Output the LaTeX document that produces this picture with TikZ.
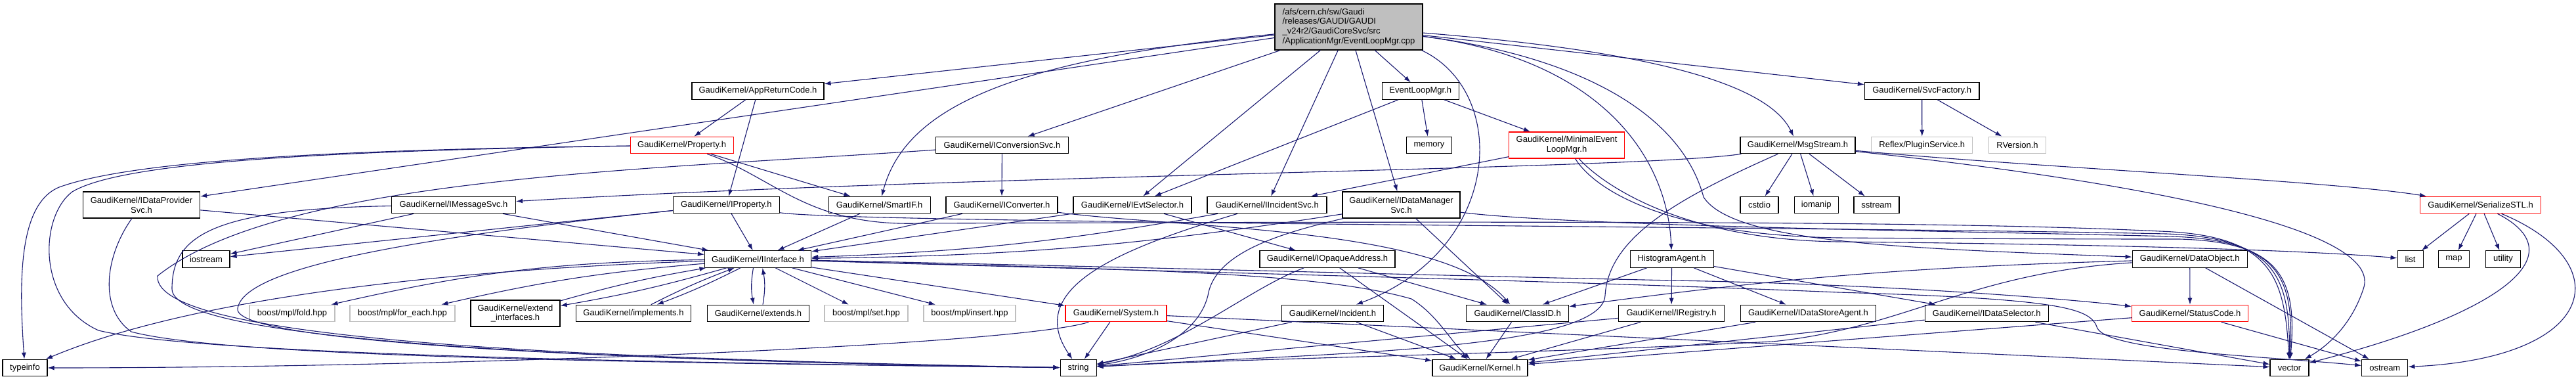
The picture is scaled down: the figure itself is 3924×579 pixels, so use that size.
\documentclass[tikz,border=0pt]{standalone}
\usepackage{fontspec}
\newfontfamily\doxfont{Liberation Sans}
\usetikzlibrary{arrows.meta}

\definecolor{edgeblue}{RGB}{25,25,112}
\definecolor{rootgray}{RGB}{191,191,191}
\definecolor{cutred}{RGB}{255,0,0}
\definecolor{undocgray}{RGB}{191,191,191}

\begin{document}
\begin{tikzpicture}[x = 1pt, y = 1pt, > = {Latex[length = 10pt, width = 7pt]}, font = \doxfont\fontsize{13}{14.8}\selectfont,
	file/.style = {draw = black, fill = white, line width = 1.2pt, minimum height = 25.5pt, inner sep = 2pt},
	twoline/.style = {file, minimum height = 40pt, align = center},
	cut/.style = {draw = cutred},
	undoc/.style = {draw = undocgray},
	edge/.style = {->, draw = edgeblue, line width = 1.1pt}]

	% Definitions
	
	\def\rowa{-41}		% Row heights, top to bottom
	\def\rowb{-138.5}
	\def\rowc{-221}
	\def\rowd{-312}
	\def\rowe{-394.5}
	\def\rowf{-477}
	\def\rowg{-560}
	
	\useasboundingbox (0, 0) rectangle (3924, -579);
	
	% Draw files
	
	\node [file, fill = rootgray, minimum width = 225, minimum height = 70, align = left] (root) at (2054.5, \rowa) {/afs/cern.ch/sw/Gaudi\\/releases/GAUDI/GAUDI\\\_v24r2/GaudiCoreSvc/src\\/ApplicationMgr/EventLoopMgr.cpp};
	
	\node [file, minimum width = 201] (arc) at (1154.5, \rowb) {GaudiKernel/AppReturnCode.h};
	\node [file, minimum width = 117] (elm) at (2163.7, \rowb) {EventLoopMgr.h};
	\node [file, minimum width = 174.5] (sf) at (2927.7, \rowb) {GaudiKernel/SvcFactory.h};
	
	\node [file, cut, minimum width = 157] (prop) at (1038.6, \rowc) {GaudiKernel/Property.h};
	\node [file, minimum width = 202] (icnv) at (1526.4, \rowc) {GaudiKernel/IConversionSvc.h};
	\node [file, minimum width = 69.5] (mem) at (2177, \rowc) {memory};
	\node [twoline, cut, minimum width = 176] (melm) at (2386.6, \rowc) {GaudiKernel/MinimalEvent\\LoopMgr.h};
	\node [file, minimum width = 175] (msg) at (2738.5, \rowc) {GaudiKernel/MsgStream.h};
	\node [file, undoc, minimum width = 154] (plug) at (2927.8, \rowc) {Reflex/PluginService.h};
	\node [file, undoc, minimum width = 87] (rver) at (3073, \rowc) {RVersion.h};
	
	\node [twoline, minimum width = 178] (idp) at (215.5, \rowd) {GaudiKernel/IDataProvider\\Svc.h};
	\node [file, minimum width = 189] (imsg) at (691, \rowd) {GaudiKernel/IMessageSvc.h};
	\node [file, minimum width = 162] (iprop) at (1106.4, \rowd) {GaudiKernel/IProperty.h};
	\node [file, minimum width = 155] (sif) at (1339.6, \rowd) {GaudiKernel/SmartIF.h};
	\node [file, minimum width = 170] (iconv) at (1526, \rowd) {GaudiKernel/IConverter.h};
	\node [file, minimum width = 180] (ievt) at (1725, \rowd) {GaudiKernel/IEvtSelector.h};
	\node [file, minimum width = 182] (iinc) at (1930, \rowd) {GaudiKernel/IIncidentSvc.h};
	\node [twoline, minimum width = 179] (idm) at (2134.5, \rowd) {GaudiKernel/IDataManager\\Svc.h};
	\node [file, minimum width = 58] (cstdio) at (2680, \rowd) {cstdio};
	\node [file, minimum width = 67] (iomanip) at (2766.7, \rowd) {iomanip};
	\node [file, minimum width = 69] (sstream) at (2858.4, \rowd) {sstream};
	\node [file, cut, minimum width = 184] (ser) at (3778.5, \rowd) {GaudiKernel/SerializeSTL.h};
	
	\node [file, minimum width = 72] (iostream) at (314, \rowe) {iostream};
	\node [file, minimum width = 162] (iint) at (1154.5, \rowe) {GaudiKernel/IInterface.h};
	\node [file, minimum width = 206] (iopq) at (2022, \rowe) {GaudiKernel/IOpaqueAddress.h};
	\node [file, minimum width = 127] (hist) at (2546.6, \rowe) {HistogramAgent.h};
	\node [file, minimum width = 175] (dobj) at (3335.7, \rowe) {GaudiKernel/DataObject.h};
	\node [file, minimum width = 39] (list) at (3671.6, \rowe) {list};
	\node [file, minimum width = 47] (map) at (3738, \rowe) {map};
	\node [file, minimum width = 53] (utility) at (3813, \rowe) {utility};
	
	\node [file, undoc, minimum width = 130] (fold) at (445, \rowf) {boost/mpl/fold.hpp};
	\node [file, undoc, minimum width = 160] (foreach) at (613, \rowf) {boost/mpl/for\_each.hpp};
	\node [twoline, minimum width = 136] (extif) at (785, \rowf) {GaudiKernel/extend\\\_interfaces.h};
	\node [file, minimum width = 175] (impl) at (965, \rowf) {GaudiKernel/implements.h};
	\node [file, minimum width = 155] (ext) at (1155, \rowf) {GaudiKernel/extends.h};
	\node [file, undoc, minimum width = 127] (set) at (1319.5, \rowf) {boost/mpl/set.hpp};
	\node [file, undoc, minimum width = 140] (insert) at (1477, \rowf) {boost/mpl/insert.hpp};
	\node [file, cut, minimum width = 154] (sys) at (1700, \rowf) {GaudiKernel/System.h};
	\node [file, minimum width = 155] (inc) at (2030, \rowf) {GaudiKernel/Incident.h};
	\node [file, minimum width = 156] (clid) at (2311.7, \rowf) {GaudiKernel/ClassID.h};
	\node [file, minimum width = 161.5] (ireg) at (2546, \rowf) {GaudiKernel/IRegistry.h};
	\node [file, minimum width = 206] (idsa) at (2754.4, \rowf) {GaudiKernel/IDataStoreAgent.h};
	\node [file, minimum width = 188] (idsel) at (3026.3, \rowf) {GaudiKernel/IDataSelector.h};
	\node [file, cut, minimum width = 177] (sc) at (3336, \rowf) {GaudiKernel/StatusCode.h};
	
	\node [file, minimum width = 68] (typeinfo) at (38, \rowg) {typeinfo};
	\node [file, minimum width = 55] (string) at (1642.6, \rowg) {string};
	\node [file, minimum width = 145] (kern) at (2254.4, \rowg) {GaudiKernel/Kernel.h};
	\node [file, minimum width = 59] (vector) at (3487.5, \rowg) {vector};
	\node [file, minimum width = 70] (ostream) at (3632.8, \rowg) {ostream};
	
	% Draw straight includes
	
	\foreach \s/\t in {root/arc, root/idp, root/icnv, root/ievt, root/iinc, root/idm, root/elm, root/sf,
		arc/prop, arc/iprop, elm/ievt, elm/mem, elm/melm, sf/plug, sf/rver,
		prop/sif, iprop/iint, iprop/iostream, imsg/iint, imsg/iostream, idp/iint, sif/iint,
		icnv/iconv, iconv/iint, ievt/iint, ievt/iopq, melm/iinc, idm/clid,
		msg/cstdio, msg/iomanip, msg/sstream, ser/list, ser/map, ser/utility,
		iint/set, iint/insert, iint/sys, iopq/clid, iopq/kern, inc/string, inc/kern, clid/kern,
		hist/clid, hist/ireg, hist/idsa, hist/idsel, ireg/kern, ireg/string, idsa/kern,
		idsel/kern, idsel/vector, dobj/sc, dobj/ostream, sc/ostream, sc/kern,
		sys/string, sys/kern, sys/vector}
	{
		\draw [edge] (\s) -- (\t);
	}
	
	% Draw slightly bent includes
	
	\draw [edge] (iint) to [bend right = 6] (fold);
	\draw [edge] (iint) to [bend right = 4] (foreach);
	\draw [edge] (iinc) to [bend left = 4] (iint);
	\draw [edge] (idm) to [bend left = 4] (iint);
	\draw [edge] (dobj) to [bend right = 3] (clid);
	\foreach \t in {extif, impl}
	{
		\draw [edge] (iint) to [bend left = 3] (\t);
		\draw [edge] (\t) to [bend left = 3] (iint);
	}
	\draw [edge] ([xshift = -7] iint.south) to [bend right = 10] ([xshift = -7] ext.north);
	\draw [edge] ([xshift = 7] ext.north) to [bend right = 10] ([xshift = 7] iint.south);
	
	% Draw long includes
	
	\draw [edge] (root) .. controls (1550, -90) and (1380, -160) .. (sif);
	\draw [edge] ([xshift = -2] root.south east) .. controls (2300, -140) and (2290, -380) .. (inc);
	\draw [edge] (root) .. controls (2440, -90) and (2540, -240) .. (hist);
	\draw [edge] (root) .. controls (2480, -75) and (2690, -120) .. (msg);
	\draw [edge] (root) .. controls (2400, -85) and (2560, -170) .. (2595, -300) .. controls (2640, -370) and (2900, -378) .. (dobj);
	
	\draw [edge] (prop) .. controls (500, -228) and (200, -245) .. (90, -285) .. controls (30, -310) and (28, -420) .. (typeinfo);
	\draw [edge] (prop) .. controls (450, -230) and (180, -250) .. (110, -292) .. controls (60, -330) and (55, -460) .. (150, -503) .. controls (300, -540) and (1000, -552) .. (string);
	\draw [edge] (prop) .. controls (1180, -270) and (1230, -345) .. (1400, -340) .. controls (2500, -336) and (3000, -338) .. (3290, -352) .. controls (3460, -358) and (3480, -420) .. (vector);
	\draw [edge] (idp) .. controls (160, -390) and (150, -470) .. (200, -505) .. controls (350, -545) and (1000, -552) .. (string);
	\draw [edge] (imsg) .. controls (320, -318) and (262, -360) .. (262, -440) .. controls (262, -520) and (900, -548) .. (string);
	\draw [edge] (icnv) .. controls (1000, -258) and (430, -268) .. (240, -420) .. controls (232, -520) and (900, -546) .. (string);
	\draw [edge] (iprop) .. controls (650, -360) and (370, -405) .. (362, -470) .. controls (355, -525) and (1000, -550) .. (string);
	\draw [edge] (iprop) .. controls (1300, -340) and (2800, -345) .. (3300, -356) .. controls (3465, -362) and (3488, -420) .. (vector);
	
	\draw [edge] (iint) .. controls (700, -410) and (300, -450) .. (typeinfo);
	\draw [edge] (iint) .. controls (1700, -410) and (2000, -412) .. (2150, -455) .. controls (2190, -480) and (2210, -520) .. (kern);
	\draw [edge] (iint) .. controls (1800, -408) and (2200, -420) .. (2600, -428) .. controls (2900, -435) and (3150, -455) .. (sc);
	\draw [edge] (iint) .. controls (1800, -414) and (2400, -428) .. (2800, -445) .. controls (3150, -455) and (3185, -470) .. (3195, -500) .. controls (3215, -535) and (3450, -542) .. (ostream);
	
	\draw [edge] (iinc) .. controls (1700, -380) and (1560, -440) .. (string);
	\draw [edge] (idm) .. controls (1950, -355) and (1850, -385) .. (1840, -450) .. controls (1825, -510) and (1750, -545) .. (string);
	\draw [edge] (idm) .. controls (2400, -345) and (3000, -352) .. (3310, -360) .. controls (3470, -366) and (3495, -420) .. (vector);
	\draw [edge] (iconv) .. controls (1800, -348) and (2200, -345) .. (clid);
	\draw [edge] (iopq) .. controls (1900, -440) and (1800, -530) .. (string);
	
	\draw [edge] (melm) .. controls (2440, -280) and (2560, -365) .. (2800, -368) .. controls (3200, -372) and (3500, -380) .. (list);
	\draw [edge] (melm) .. controls (2430, -290) and (2540, -358) .. (2800, -362) .. controls (3100, -364) and (3250, -364) .. (3320, -364) .. controls (3470, -368) and (3500, -420) .. (vector);
	
	\draw [edge] (msg) .. controls (2500, -258) and (1500, -265) .. (imsg);
	\draw [edge] (msg) .. controls (2560, -300) and (2450, -360) .. (2445, -450) .. controls (2440, -535) and (2000, -538) .. (string);
	\draw [edge] (msg) .. controls (3100, -255) and (3550, -275) .. (ser);
	\draw [edge] (msg) .. controls (3100, -260) and (3640, -330) .. (3600, -440) .. controls (3580, -500) and (3540, -530) .. (vector);
	
	\draw [edge] (ser) .. controls (3930, -390) and (3800, -480) .. (vector);
	\draw [edge] (ser) .. controls (3990, -400) and (3960, -545) .. (ostream);
	
	\draw [edge] (dobj) .. controls (3000, -415) and (2900, -500) .. (2700, -520) .. controls (2300, -540) and (1900, -545) .. (string);
	\draw [edge] (sys) .. controls (1550, -525) and (700, -560) .. (typeinfo);
	
\end{tikzpicture}
\end{document}
